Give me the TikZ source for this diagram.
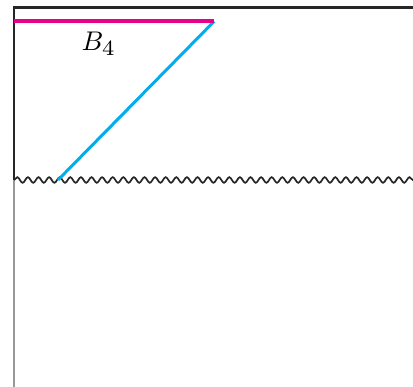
\documentclass[tikz,border=0pt]{standalone}
\usetikzlibrary{decorations.pathmorphing}
\definecolor{mag}{RGB}{230,0,140}
\definecolor{cy}{RGB}{0,174,239}
\begin{document}
\begin{tikzpicture}[x=1pt,y=-1pt,
  blk/.style={line width=2.6pt,black!85},
  wav/.style={line width=1.7pt,black!85,decorate,decoration={snake,amplitude=2.8pt,segment length=10.6pt}}]
\useasboundingbox (0,0) rectangle (413,387);
\coordinate (tl) at (14,7.5);
\coordinate (tr) at (413,7.5);
\coordinate (ml) at (14,180);
\coordinate (mr) at (413,180);
\coordinate (bl) at (14,387);
\coordinate (ma) at (14,21.5);
\coordinate (mb) at (214,21.5);
\coordinate (cb) at (58,180);
\draw[line width=2pt,black!40] (ml) -- (bl);
\draw[blk] (tr) -- (tl) -- (ml);
\draw[wav] (ml) -- (mr);
\draw[line width=3pt,cy] (mb) -- (cb);
\draw[line width=4pt,mag] (ma) -- (mb);
\node[scale=2.7,inner sep=0pt,anchor=base west] (lab) at (81,51) {$B_{\scalebox{1.15}{$\scriptstyle 4$}}$};
\end{tikzpicture}
\end{document}
